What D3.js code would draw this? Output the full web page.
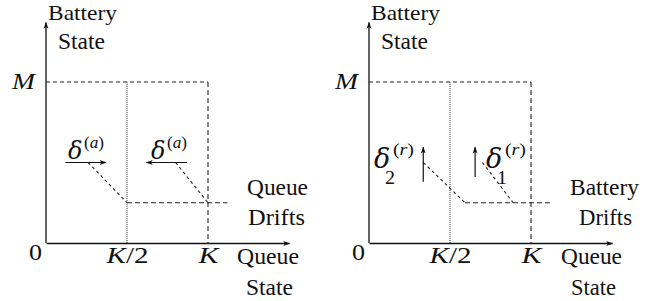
<!DOCTYPE html>
<html>
<head>
<meta charset="utf-8">
<script src="https://cdn.jsdelivr.net/npm/d3@7"></script>
<style>
  body { margin: 0; background: #fff; }
  svg text { font-family: "Liberation Serif", "Times New Roman", serif; fill: #111; }
  svg text.greek { font-family: "DejaVu Serif", serif; }
</style>
</head>
<body>
<svg id="chart" width="664" height="301"></svg>
<script>
// queue state in units of K, battery state in units of M
const xTickVals = [0, 0.5, 1];
const xTickLabels = ["0", "K/2", "K"];
const yTickVals = [1];
const yTickLabels = ["M"];
const axisEnd = [1.5, 1.37];     // arrow tips of x and y axis
const driftLevel = 0.25;         // level of the horizontal drift line

// left panel: queue drifts
const leftArrowFrom = [[0.12, 0.5], [0.87, 0.5]];
const leftArrowTo = [[0.37, 0.5], [0.62, 0.5]];
const leftDiagFrom = [[0.26, 0.5], [0.80, 0.5]];
const leftDiagTo = [[0.5, 0.25], [1, 0.25]];
const leftDriftSpan = [0.5, 1.12];

// right panel: battery drifts
const rightArrowFrom = [[0.335, 0.38], [0.655, 0.41]];
const rightArrowTo = [[0.335, 0.595], [0.655, 0.595]];
const rightDiagFrom = [[0.335, 0.5], [0.70, 0.5]];
const rightDiagTo = [[0.593, 0.25], [0.89, 0.25]];
const rightDriftSpan = [0.593, 1.117];

const svg = d3.select("#chart");
svg.append("defs").append("marker")
    .attr("id", "head")
    .attr("viewBox", "0 0 10 10")
    .attr("refX", 9).attr("refY", 5)
    .attr("markerWidth", 9).attr("markerHeight", 7)
    .attr("markerUnits", "userSpaceOnUse")
    .attr("orient", "auto")
    .append("path")
    .attr("d", "M0,1.5 L10,5 L0,8.5 L2.5,5 Z")
    .attr("fill", "#111");

// text helper, width stretches the glyphs so they get the wide TeX look
function txt(g, x, y, str, o) {
    o = o || {};
    const t = g.append("text")
        .attr("x", x).attr("y", y)
        .attr("font-size", o.size || 23)
        .attr("text-anchor", o.anchor || "start")
        .text(str);
    if (o.italic) t.attr("font-style", "italic");
    if (o.width) t.attr("textLength", o.width).attr("lengthAdjust", "spacingAndGlyphs");
    if (o.cls) t.attr("class", o.cls);
    return t;
}

function drawPanel(x0, cfg) {
    const x = d3.scaleLinear().domain([0, axisEnd[0]]).range([x0, x0 + 162 * axisEnd[0]]);
    const y = d3.scaleLinear().domain([0, axisEnd[1]]).range([243, 243 - 161 * axisEnd[1]]);
    const g = svg.append("g");

    // boundary lines
    g.append("line")
        .attr("x1", x(0)).attr("y1", y(1)).attr("x2", x(1)).attr("y2", y(1))
        .attr("stroke", "#222").attr("stroke-width", 1.1).attr("stroke-dasharray", "4,3");
    g.append("line")
        .attr("x1", x(1)).attr("y1", y(1)).attr("x2", x(1)).attr("y2", y(0))
        .attr("stroke", "#222").attr("stroke-width", 1.1).attr("stroke-dasharray", "5,3");
    g.append("line")
        .attr("x1", x(0.5)).attr("y1", y(1)).attr("x2", x(0.5)).attr("y2", y(0))
        .attr("stroke", "#555").attr("stroke-width", 1.2).attr("stroke-dasharray", "1,1");

    // drift line
    g.append("line")
        .attr("x1", x(cfg.span[0])).attr("y1", y(driftLevel))
        .attr("x2", x(cfg.span[1])).attr("y2", y(driftLevel))
        .attr("stroke", "#222").attr("stroke-width", 1.1).attr("stroke-dasharray", "5,3");

    // diagonals
    g.selectAll(".diag").data(d3.zip(cfg.diagFrom, cfg.diagTo)).enter().append("line")
        .attr("x1", d => x(d[0][0])).attr("y1", d => y(d[0][1]))
        .attr("x2", d => x(d[1][0])).attr("y2", d => y(d[1][1]))
        .attr("stroke", "#222").attr("stroke-width", 1.1).attr("stroke-dasharray", "3,3");

    // drift vectors
    g.selectAll(".vec").data(d3.zip(cfg.arrowFrom, cfg.arrowTo)).enter().append("line")
        .attr("x1", d => x(d[0][0])).attr("y1", d => y(d[0][1]))
        .attr("x2", d => x(d[1][0])).attr("y2", d => y(d[1][1]))
        .attr("stroke", "#111").attr("stroke-width", 1.2)
        .attr("marker-end", "url(#head)");

    // axes
    const xAxis = g.append("g").attr("transform", "translate(0," + y(0) + ")")
        .call(d3.axisBottom(x).tickValues(xTickVals).tickSize(0).tickSizeOuter(0).tickFormat(() => ""));
    const yAxis = g.append("g").attr("transform", "translate(" + x(0) + ",0)")
        .call(d3.axisLeft(y).tickValues(yTickVals).tickSize(0).tickSizeOuter(0).tickFormat(() => ""));
    [xAxis, yAxis].forEach(a => {
        a.select(".domain").attr("stroke", "#111").attr("stroke-width", 1.3)
            .attr("marker-end", "url(#head)");
        a.selectAll("text").remove();
    });
    // draw the y domain bottom to top so the arrow points up
    yAxis.select(".domain").attr("d", "M0," + y(0) + "V" + y(axisEnd[1]));

    xAxis.selectAll(".tick").each(function(d, i) {
        const tk = d3.select(this);
        const lab = xTickLabels[i];
        if (lab === "0") txt(tk, -11, 17, "0", {anchor: "middle", size: 23, width: 13});
        else if (lab === "K") txt(tk, 0, 20, "K", {anchor: "middle", italic: true, size: 23, width: 20});
        else {
            // K/2 : italic K, upright /2
            const t = tk.append("text").attr("y", 20).attr("font-size", 23)
                .attr("text-anchor", "middle").attr("textLength", 42)
                .attr("lengthAdjust", "spacingAndGlyphs");
            t.append("tspan").attr("font-style", "italic").text("K");
            t.append("tspan").text("/2");
        }
    });
    yAxis.selectAll(".tick").each(function(d, i) {
        txt(d3.select(this), -11, 6, yTickLabels[i], {anchor: "end", italic: true, size: 23, width: 23});
    });

    // axis titles
    const t = cfg.titles;
    txt(g, x(0) + 2, 20, "Battery", {size: 22, width: 69});
    txt(g, x(0) + 12, 49, "State", {width: 47});
    txt(g, t.q[0], 264, "Queue", {width: t.q[1]});
    txt(g, t.s[0], 295, "State", {width: t.s[1]});
    txt(g, t.d1[0], 195, cfg.driftName, {width: t.d1[1]});
    txt(g, t.d2[0], 225, "Drifts", {width: t.d2[1]});

    return {x, y, g};
}

drawPanel(46, {
    span: leftDriftSpan, diagFrom: leftDiagFrom, diagTo: leftDiagTo,
    arrowFrom: leftArrowFrom, arrowTo: leftArrowTo, driftName: "Queue",
    titles: {q: [237, 62], s: [246, 47], d1: [247, 61], d2: [248, 57]}
});
drawPanel(369, {
    span: rightDriftSpan, diagFrom: rightDiagFrom, diagTo: rightDiagTo,
    arrowFrom: rightArrowFrom, arrowTo: rightArrowTo, driftName: "Battery",
    titles: {q: [561, 61], s: [571, 45], d1: [570, 69], d2: [579, 53]}
});

// drift labels
function deltaA(x, yb) {
    txt(svg, x + 2, yb, "δ", {italic: true, size: 24, cls: "greek"});
    const s = svg.append("text").attr("x", x + 18).attr("y", yb - 11)
        .attr("font-size", 16).attr("textLength", 20).attr("lengthAdjust", "spacingAndGlyphs");
    s.append("tspan").text("(");
    s.append("tspan").attr("font-style", "italic").text("a");
    s.append("tspan").text(")");
}
deltaA(66, 159);
deltaA(149, 159);

function deltaR(x, yb, sub) {
    txt(svg, x + 1, yb, "δ", {italic: true, size: 27, cls: "greek"});
    const s = svg.append("text").attr("x", x + 20).attr("y", yb - 13)
        .attr("font-size", 17).attr("textLength", 21).attr("lengthAdjust", "spacingAndGlyphs");
    s.append("tspan").text("(");
    s.append("tspan").attr("font-style", "italic").text("r");
    s.append("tspan").text(")");
    txt(svg, x + 12, yb + 16, sub, {size: 18, width: 10});
}
deltaR(373, 168, "2");
deltaR(485, 168, "1");
</script>
</body>
</html>
